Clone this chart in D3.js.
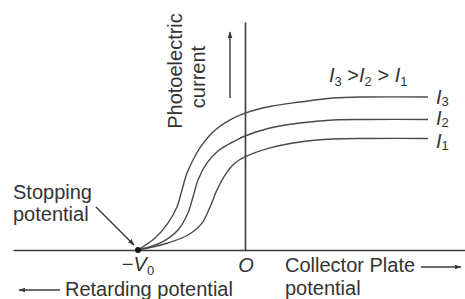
<!DOCTYPE html>
<html>
<head>
<meta charset="utf-8">
<script src="https://cdn.jsdelivr.net/npm/d3@7"></script>
<style>
  html, body { margin: 0; padding: 0; background: #fff; }
  svg { display: block; }
  text { font-family: "Liberation Sans", Arial, sans-serif; fill: #333; }
</style>
</head>
<body>
<script>
// ---- data ----
const voltageI3 = [-1, -0.841, -0.720, -0.636, -0.589, -0.542, -0.486, -0.421, -0.299, -0.140, 0, 0.234, 0.514, 0.822, 1.140, 1.710];
const currentI3 = [0, 0.078, 0.176, 0.281, 0.392, 0.503, 0.588, 0.667, 0.771, 0.850, 0.895, 0.938, 0.967, 0.993, 1.0, 1.0];
const voltageI2 = [-1, -0.776, -0.626, -0.533, -0.486, -0.439, -0.355, -0.252, -0.112, 0, 0.234, 0.514, 0.822, 1.140, 1.710];
const currentI2 = [0, 0.052, 0.131, 0.242, 0.346, 0.458, 0.569, 0.647, 0.706, 0.745, 0.797, 0.830, 0.850, 0.853, 0.853];
const voltageI1 = [-1, -0.720, -0.533, -0.402, -0.327, -0.262, -0.187, -0.093, 0, 0.234, 0.514, 0.822, 1.140, 1.710];
const currentI1 = [0, 0.046, 0.098, 0.176, 0.281, 0.392, 0.490, 0.569, 0.608, 0.667, 0.706, 0.725, 0.729, 0.729];
const seriesNames = ["3", "2", "1"];
const tickValues = [-1, 0];
const tickLabels = ["V0", "O"];
const stoppingVoltage = -1;

const W = 465, H = 299;
const svg = d3.select("body").append("svg").attr("width", W).attr("height", H);

const x = d3.scaleLinear().domain([-2.168, 2.056]).range([13, 465]);
const y = d3.scaleLinear().domain([0, 1.49]).range([250, 22]);

const ink = "#3a3a3a";
const fs = 20;
const sub = 13;
const endLabelDy = [7, 6, 10];

// arrow marker
const defs = svg.append("defs");
defs.append("marker").attr("id", "ah").attr("viewBox", "0 0 10 10")
  .attr("refX", 9).attr("refY", 5).attr("markerWidth", 7).attr("markerHeight", 7)
  .attr("markerUnits", "userSpaceOnUse").attr("orient", "auto")
  .append("path").attr("d", "M0,1.5 L10,5 L0,8.5 Z").attr("fill", ink);

// axes
const xAxis = d3.axisBottom(x).tickValues([]).tickSizeOuter(0);
svg.append("g").attr("transform", `translate(0,${y(0)})`).call(xAxis)
  .call(g => g.select(".domain").attr("stroke", ink).attr("stroke-width", 1.6));
const yAxis = d3.axisLeft(y).tickValues([]).tickSizeOuter(0);
svg.append("g").attr("transform", `translate(${x(0)},0)`).call(yAxis)
  .call(g => g.select(".domain").attr("stroke", ink).attr("stroke-width", 1.6));

// curves
const series = [
  { v: voltageI3, c: currentI3 },
  { v: voltageI2, c: currentI2 },
  { v: voltageI1, c: currentI1 }
];
const line = d3.line().x(d => x(d[0])).y(d => y(d[1])).curve(d3.curveCatmullRom.alpha(0.5));
svg.selectAll("path.curve").data(series).join("path").attr("class", "curve")
  .attr("d", s => line(s.v.map((v, i) => [v, s.c[i]])))
  .attr("fill", "none").attr("stroke", "#4a4a4a").attr("stroke-width", 1.4);

// end labels
series.forEach((s, k) => {
  const t = svg.append("text").attr("x", x(s.v[s.v.length - 1]) + 8)
    .attr("y", y(s.c[s.c.length - 1]) + endLabelDy[k]).attr("font-size", fs);
  t.append("tspan").attr("font-style", "italic").text("I");
  t.append("tspan").attr("font-size", sub).attr("dy", 2).text(seriesNames[k]);
});

// relation label
{
  const t = svg.append("text").attr("x", 329).attr("y", 82).attr("font-size", fs);
  const parts = [["I", "3", " >"], ["I", "2", " > "], ["I", "1", ""]];
  parts.forEach(p => {
    t.append("tspan").attr("font-style", "italic").text(p[0]);
    t.append("tspan").attr("font-size", sub).attr("dy", 4).text(p[1]);
    t.append("tspan").attr("dy", -4).text(p[2]);
  });
}

// stopping point
svg.append("circle").attr("cx", x(stoppingVoltage)).attr("cy", y(0)).attr("r", 3).attr("fill", "#111");

// tick labels
{
  const t = svg.append("text").attr("x", x(tickValues[0])).attr("y", 271)
    .attr("font-size", fs).attr("text-anchor", "middle");
  t.append("tspan").text("\u2212");
  t.append("tspan").attr("font-style", "italic").text(tickLabels[0][0]);
  t.append("tspan").attr("font-size", sub).attr("dy", 4).text(tickLabels[0].slice(1));
  svg.append("text").attr("x", x(tickValues[1]) + 1).attr("y", 272).attr("font-size", fs)
    .attr("text-anchor", "middle").attr("font-style", "italic").text(tickLabels[1]);
}

// axis titles
svg.append("text").attr("x", 13).attr("y", 199).attr("font-size", fs).text("Stopping");
svg.append("text").attr("x", 13).attr("y", 221).attr("font-size", fs).text("potential");
svg.append("line").attr("x1", 96).attr("y1", 207).attr("x2", 134).attr("y2", 245)
  .attr("stroke", ink).attr("stroke-width", 1.4).attr("marker-end", "url(#ah)");

svg.append("text").attr("x", 285).attr("y", 272).attr("font-size", fs).text("Collector Plate");
svg.append("line").attr("x1", 421).attr("y1", 267).attr("x2", 461).attr("y2", 267)
  .attr("stroke", ink).attr("stroke-width", 1.4).attr("marker-end", "url(#ah)");
svg.append("text").attr("x", 285).attr("y", 295).attr("font-size", fs).text("potential");

svg.append("text").attr("x", 65).attr("y", 296).attr("font-size", fs).text("Retarding potential");
svg.append("line").attr("x1", 60).attr("y1", 290).attr("x2", 19).attr("y2", 290)
  .attr("stroke", ink).attr("stroke-width", 1.4).attr("marker-end", "url(#ah)");

svg.append("text").attr("transform", "translate(182,71) rotate(-90)")
  .attr("font-size", fs).attr("text-anchor", "middle").text("Photoelectric");
svg.append("text").attr("transform", "translate(205,77) rotate(-90)")
  .attr("font-size", fs).attr("text-anchor", "middle").text("current");
svg.append("line").attr("x1", 230).attr("y1", 98).attr("x2", 230).attr("y2", 32)
  .attr("stroke", ink).attr("stroke-width", 1.4).attr("marker-end", "url(#ah)");
</script>
</body>
</html>
